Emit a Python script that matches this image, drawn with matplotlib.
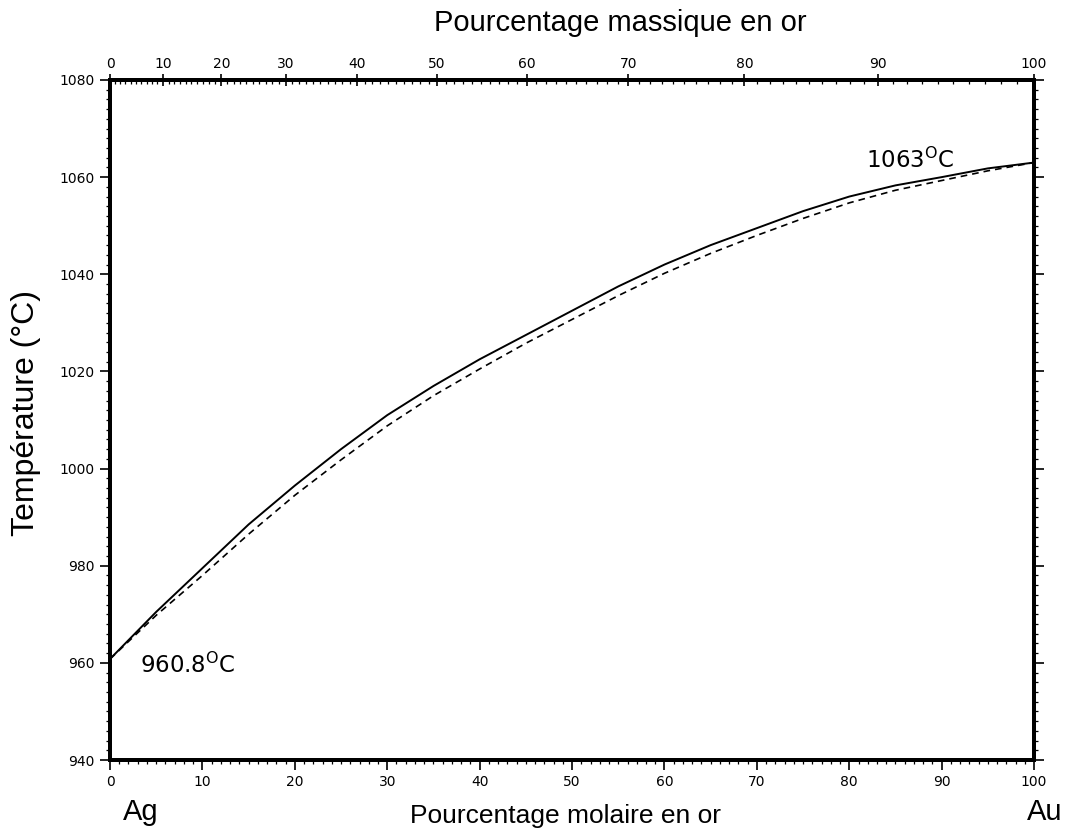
import matplotlib
matplotlib.use("Agg")
import matplotlib.pyplot as plt
import numpy as np
from matplotlib.ticker import MultipleLocator, FixedLocator

# Data (mol % Au -> temperature °C)
mol_pct = [0, 5, 10, 15, 20, 25, 30, 35, 40, 45, 50, 55, 60, 65, 70, 75, 80, 85, 90, 95, 100]
liquidus = [960.8, 970.5, 979.5, 988.5, 996.5, 1004, 1011, 1017, 1022.5, 1027.5, 1032.5,
            1037.5, 1042, 1046, 1049.5, 1053, 1056, 1058.3, 1060, 1061.8, 1063]
solidus = [960.8, 969.8, 978, 986.5, 994.5, 1001.8, 1008.8, 1015, 1020.5, 1025.8, 1030.7,
           1035.6, 1040.2, 1044.3, 1048, 1051.5, 1054.7, 1057.3, 1059.3, 1061.3, 1063]
bottom_ticks = [0, 10, 20, 30, 40, 50, 60, 70, 80, 90, 100]
mass_ticks = [0, 10, 20, 30, 40, 50, 60, 70, 80, 90, 100]
y_ticks = [940, 960, 980, 1000, 1020, 1040, 1060, 1080]

M_AU, M_AG = 196.97, 107.87


def mass2mol(w):
    w = np.asarray(w, dtype=float) / 100.0
    a = w / M_AU
    b = (1 - w) / M_AG
    return 100.0 * a / (a + b)


fig = plt.figure(figsize=(10.65, 8.33), dpi=100)
ax = fig.add_axes([0.1033, 0.0876, 0.8677, 0.8164])

ax.plot(mol_pct, liquidus, color="black", lw=1.4, solid_capstyle="round")
ax.plot(mol_pct, solidus, color="black", lw=1.2, ls=(0, (4, 3)))

ax.set_xlim(0, 100)
ax.set_ylim(940, 1080)

for s in ax.spines.values():
    s.set_linewidth(2.8)

ax.set_xticks(bottom_ticks)
ax.set_xticklabels([str(t) for t in bottom_ticks], fontsize=10)
ax.xaxis.set_minor_locator(MultipleLocator(1))
ax.set_yticks(y_ticks)
ax.set_yticklabels([str(t) for t in y_ticks], fontsize=10)
ax.yaxis.set_minor_locator(MultipleLocator(2))
ax.tick_params(axis="x", which="major", direction="out", length=7, width=1.2, pad=4)
ax.tick_params(axis="x", which="minor", direction="out", length=3, width=0.9)
ax.tick_params(axis="y", which="major", direction="out", length=7, width=1.2, pad=4, right=True)
ax.tick_params(axis="y", which="minor", direction="out", length=3, width=0.9, right=True)
ax.tick_params(axis="y", which="both", labelright=False)

# Top axis: mass percentage
ax2 = ax.twiny()
ax2.set_xlim(0, 100)
ax2.xaxis.set_major_locator(FixedLocator(mass2mol(mass_ticks)))
ax2.set_xticklabels([str(t) for t in mass_ticks], fontsize=10)
ax2.xaxis.set_minor_locator(FixedLocator(mass2mol(np.arange(0, 101, 1))))
ax2.tick_params(axis="x", which="major", direction="inout", length=9, width=1.2, pad=2)
ax2.tick_params(axis="x", which="minor", direction="in", length=3, width=0.9)
for s in ax2.spines.values():
    s.set_linewidth(2.8)

fam = "Liberation Sans"
fig.text(0.582, 0.972, "Pourcentage massique en or", ha="center", va="center", family=fam, size=21)
fig.text(0.531, 0.021, "Pourcentage molaire en or", ha="center", va="center", family=fam, size=19)
fig.text(0.132, 0.025, "Ag", ha="center", va="center", family=fam, size=21)
fig.text(0.981, 0.025, "Au", ha="center", va="center", family=fam, size=21)
fig.text(0.024, 0.504, "Température (°C)", ha="center", va="center", rotation=90, family=fam, size=23)

ax.text(3.2, 959.5, r"960.8$^{\mathrm{O}}$C", fontsize=16.5, ha="left", va="center", family="DejaVu Sans")
ax.text(81.8, 1063.5, r"1063$^{\mathrm{O}}$C", fontsize=16.5, ha="left", va="center", family="DejaVu Sans")

fig.savefig("out.png", dpi=100)
